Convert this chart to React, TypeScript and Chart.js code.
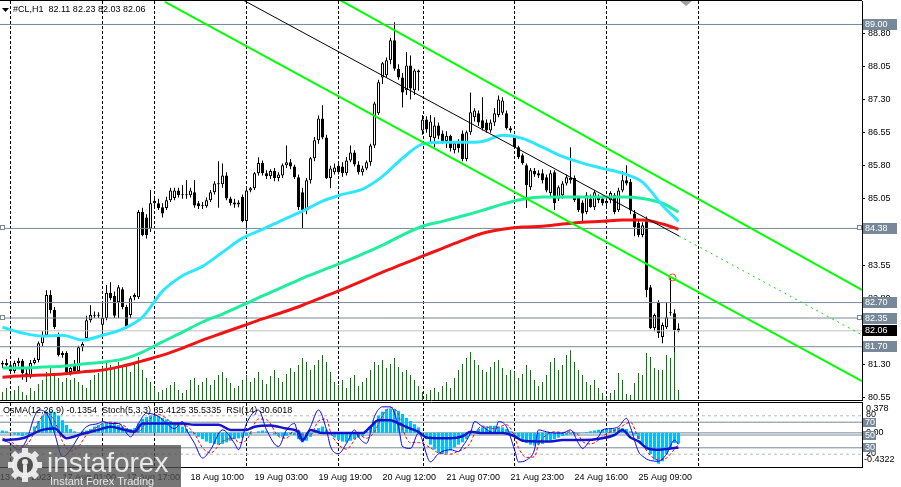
import { useEffect, useRef } from "react"
import { Chart, registerables } from "chart.js"

Chart.register(...registerables)

const FONT = "'Liberation Sans', Arial, sans-serif"
// visible bar range (4 px per H1 bar, last bar followed by the chart shift)
const X_MIN = -0.625
const X_MAX = 214.875

// #CL H1 candles, oldest first
const opens = [
  81.30, 81.33, 81.28, 81.15, 81.33, 81.38, 81.10, 81.01, 81.33, 81.40,
  81.78, 81.96, 82.87, 82.53, 81.95, 81.51, 81.56, 81.13, 81.30, 81.15,
  81.69, 81.90, 82.30, 82.42, 82.40, 82.20, 82.35, 82.92, 82.85, 82.71,
  83.00, 82.60, 82.42, 82.82, 82.82, 84.75, 84.63, 84.38, 84.95, 84.95,
  84.86, 84.84, 85.02, 85.07, 85.24, 85.13, 85.13, 85.13, 85.20, 84.95,
  84.90, 84.88, 85.02, 85.20, 85.40, 85.38, 85.58, 85.06, 84.97, 84.92,
  85.10, 84.55, 85.24, 85.29, 85.63, 85.86, 85.63, 85.56, 85.68, 85.52,
  85.58, 85.81, 85.88, 85.78, 85.54, 85.20, 84.79, 85.47, 85.97, 86.38,
  86.87, 86.44, 85.52, 85.65, 85.80, 85.78, 85.63, 85.92, 86.10, 85.83,
  85.65, 85.74, 85.88, 86.26, 86.99, 87.80, 87.85, 88.19, 88.64, 88.00,
  87.80, 87.51, 88.07, 87.51, 87.96, 86.60, 86.85, 86.45, 86.42, 86.71,
  86.53, 86.36, 86.48, 86.15, 86.31, 86.53, 85.95, 86.56, 86.90, 86.99,
  86.83, 86.78, 86.60, 86.78, 86.95, 87.00, 86.99, 86.65, 86.44, 86.22,
  86.04, 85.81, 85.31, 85.68, 85.63, 85.63, 85.54, 85.18, 85.65, 85.06,
  85.13, 85.40, 85.47, 85.52, 85.09, 84.97, 84.75, 85.06, 84.86, 85.09,
  85.06, 84.95, 85.02, 85.13, 84.79, 85.24, 85.47, 85.43, 84.72, 84.50,
  84.23, 84.60, 83.05, 82.12, 82.69, 81.92, 82.14, 82.46, 82.46, 82.11,
]
const highs = [
  81.38, 81.42, 81.35, 81.38, 81.45, 81.42, 81.20, 81.40, 81.45, 81.82,
  82.05, 82.98, 82.98, 82.60, 82.02, 81.60, 81.60, 81.30, 81.40, 81.72,
  81.80, 82.40, 82.64, 82.50, 82.48, 82.69, 83.10, 83.16, 82.95, 83.10,
  83.05, 82.65, 82.85, 82.91, 84.80, 84.85, 84.70, 85.25, 85.10, 85.05,
  84.95, 85.10, 85.30, 85.30, 85.30, 85.36, 85.47, 85.30, 85.47, 85.00,
  84.98, 85.08, 85.25, 85.45, 85.90, 85.85, 85.65, 85.10, 85.05, 85.02,
  85.15, 85.30, 85.32, 85.66, 85.99, 85.92, 85.70, 85.72, 85.75, 85.65,
  85.85, 86.26, 85.95, 85.82, 85.60, 85.30, 85.52, 86.00, 86.45, 86.94,
  87.17, 86.50, 85.80, 85.85, 85.85, 85.88, 86.00, 86.26, 86.15, 85.90,
  85.80, 85.92, 86.30, 87.25, 87.75, 88.15, 88.25, 88.70, 89.05, 88.10,
  87.90, 88.37, 88.30, 88.00, 87.98, 86.95, 86.92, 86.95, 86.90, 86.78,
  86.60, 86.58, 86.50, 86.35, 86.40, 86.60, 86.60, 87.46, 87.10, 87.05,
  87.35, 86.85, 86.85, 87.10, 87.39, 87.35, 87.05, 86.70, 86.50, 86.25,
  86.08, 85.85, 85.75, 85.75, 85.70, 85.72, 85.60, 85.70, 85.70, 85.35,
  85.45, 85.60, 86.22, 85.58, 85.12, 85.02, 85.20, 85.15, 85.25, 85.15,
  85.12, 85.10, 85.22, 85.18, 85.30, 85.68, 85.81, 85.50, 84.80, 84.55,
  84.52, 84.65, 83.10, 82.45, 82.75, 82.25, 82.69, 83.25, 82.55, 82.23,
]
const lows = [
  81.22, 81.25, 81.12, 81.10, 81.25, 80.95, 80.90, 80.98, 81.30, 81.35,
  81.70, 81.92, 82.45, 82.10, 81.48, 81.45, 81.10, 81.05, 81.10, 81.10,
  81.60, 81.85, 82.25, 82.35, 82.35, 81.96, 82.30, 82.75, 82.35, 82.35,
  82.55, 82.10, 82.35, 82.75, 82.78, 84.20, 84.15, 84.30, 84.85, 84.80,
  84.63, 84.80, 84.98, 85.02, 85.08, 85.05, 85.05, 85.08, 84.85, 84.82,
  84.82, 84.85, 84.98, 85.15, 84.85, 85.30, 85.02, 84.90, 84.85, 84.86,
  84.52, 84.35, 85.20, 85.25, 85.58, 85.58, 85.50, 85.50, 85.45, 85.45,
  85.52, 85.75, 85.72, 85.50, 84.80, 84.38, 84.70, 85.40, 85.90, 86.30,
  86.40, 85.50, 85.29, 85.60, 85.60, 85.55, 85.58, 85.88, 85.78, 85.60,
  85.58, 85.70, 85.80, 86.20, 86.95, 87.65, 87.80, 88.10, 87.95, 87.75,
  87.12, 87.40, 87.30, 87.40, 87.50, 86.50, 86.55, 86.30, 86.22, 86.40,
  86.30, 86.20, 86.12, 86.08, 86.10, 85.90, 85.90, 86.50, 86.80, 86.70,
  86.60, 86.55, 86.55, 86.70, 86.90, 86.95, 86.62, 86.55, 86.20, 85.95,
  85.82, 84.84, 85.25, 85.55, 85.52, 85.40, 85.20, 85.10, 84.80, 85.00,
  85.05, 85.35, 85.40, 84.98, 84.75, 84.50, 84.70, 84.85, 84.80, 84.95,
  84.90, 84.88, 84.95, 84.70, 84.75, 85.20, 85.35, 84.70, 84.20, 84.18,
  84.18, 82.82, 82.10, 82.05, 81.90, 81.78, 82.10, 82.40, 81.58, 82.03,
]
const closes = [
  81.33, 81.28, 81.15, 81.33, 81.38, 81.10, 81.01, 81.33, 81.40, 81.78,
  81.96, 82.87, 82.53, 82.14, 81.51, 81.56, 81.13, 81.22, 81.15, 81.69,
  81.76, 82.30, 82.42, 82.40, 82.42, 82.35, 82.92, 82.80, 82.40, 83.05,
  82.60, 82.14, 82.80, 82.87, 84.75, 84.23, 84.23, 84.95, 85.00, 84.84,
  84.72, 85.02, 85.24, 85.24, 85.13, 85.13, 85.15, 85.24, 84.90, 84.88,
  84.88, 85.02, 85.20, 85.40, 85.38, 85.58, 85.06, 84.95, 84.92, 84.97,
  84.55, 85.24, 85.29, 85.63, 85.86, 85.63, 85.56, 85.68, 85.52, 85.60,
  85.81, 85.88, 85.78, 85.54, 84.86, 84.79, 85.47, 85.97, 86.38, 86.87,
  86.44, 85.52, 85.74, 85.76, 85.65, 85.63, 85.92, 86.10, 85.83, 85.65,
  85.74, 85.88, 86.26, 87.21, 87.69, 88.12, 88.19, 88.64, 88.00, 87.80,
  87.46, 88.07, 87.55, 87.96, 87.92, 86.85, 86.62, 86.80, 86.71, 86.48,
  86.36, 86.48, 86.20, 86.31, 86.20, 85.95, 86.56, 87.01, 87.05, 86.78,
  86.65, 86.60, 86.78, 86.99, 87.30, 87.28, 86.65, 86.60, 86.22, 85.99,
  85.86, 85.36, 85.70, 85.60, 85.58, 85.47, 85.24, 85.63, 84.95, 85.31,
  85.40, 85.54, 85.52, 85.02, 84.79, 84.72, 85.13, 84.86, 85.20, 85.02,
  84.95, 85.00, 85.18, 84.75, 85.24, 85.47, 85.40, 84.79, 84.41, 84.23,
  84.45, 82.98, 82.12, 82.42, 82.01, 82.19, 82.37, 82.48, 82.08, 82.06,
]
const volumes = [
  8, 12, 6, 10, 14, 8, 5, 12, 9, 16,
  20, 28, 32, 26, 22, 18, 22, 20, 22, 18,
  15, 12, 20, 25, 27, 33, 38, 35, 33, 38,
  35, 33, 28, 38, 43, 30, 22, 18, 12, 8,
  10, 12, 15, 18, 10, 7, 10, 20, 22, 15,
  18, 22, 15, 20, 25, 28, 22, 17, 12, 14,
  20, 25, 18, 22, 28, 20, 16, 24, 30, 22,
  18, 26, 32, 28, 35, 42, 38, 30, 35, 40,
  45, 38, 28, 18, 15, 20, 12, 22, 25, 14,
  18, 22, 30, 38, 35, 40, 32, 36, 42, 33,
  28, 30, 25, 20, 14, 8, 6, 10, 12, 8,
  14, 18, 12, 22, 30, 36, 42, 48, 40, 35,
  30, 28, 33, 38, 40, 32, 25, 30, 28, 22,
  26, 35, 30, 20, 14, 18, 25, 38, 42, 30,
  35, 45, 50, 38, 30, 25, 18, 15, 20, 12,
  7, 2, 7, 10, 27, 20, 6, 5, 17, 27,
  25, 47, 43, 32, 30, 30, 45, 42, 48, 10,
]

// moving averages, sampled along the bars
const maIdx = [0, 5, 10, 15, 20, 25, 30, 35, 40, 45, 50, 55, 60, 65, 70, 75, 80, 85, 90, 95, 100, 105, 110, 115, 120, 125, 130, 135, 140, 145, 150, 155, 160, 165, 169]
const maFast = [82.14, 82.01, 81.94, 81.96, 81.85, 81.96, 82.10, 82.37, 82.96, 83.31, 83.52, 83.84, 84.16, 84.36, 84.57, 84.77, 85.00, 85.15, 85.27, 85.56, 85.97, 86.29, 86.33, 86.33, 86.35, 86.49, 86.42, 86.22, 86.01, 85.86, 85.74, 85.63, 85.43, 84.90, 84.54]
const maMid = [81.22, 81.22, 81.24, 81.26, 81.31, 81.35, 81.42, 81.58, 81.81, 82.03, 82.26, 82.44, 82.64, 82.85, 83.05, 83.25, 83.43, 83.61, 83.80, 84.00, 84.23, 84.43, 84.54, 84.66, 84.79, 84.93, 85.04, 85.09, 85.09, 85.09, 85.09, 85.09, 85.06, 84.95, 84.75]
const maSlow = [81.01, 81.04, 81.06, 81.08, 81.13, 81.17, 81.26, 81.38, 81.51, 81.67, 81.85, 82.01, 82.17, 82.33, 82.48, 82.64, 82.82, 83.00, 83.19, 83.39, 83.57, 83.75, 83.93, 84.11, 84.27, 84.36, 84.41, 84.43, 84.48, 84.52, 84.54, 84.57, 84.57, 84.48, 84.36]

// drawn channel (bar index, price)
const chanUpperX = [84.375, 214.875]
const chanUpperY = [89.555, 82.985]
const chanLowerX = [40.625, 214.875]
const chanLowerY = [89.51, 80.923]
const chanMidX = [60.125, 169.125]
const chanMidY = [89.555, 84.208]
const chanRayX = [169.125, 214.875]
const chanRayY = [84.208, 81.966]
const alertX = [167.5]
const alertY = [83.27]

const levels = [89.0, 84.38, 82.7, 82.35, 81.7]
const anchoredLevels = [84.38, 82.35]
const bidPrice = 82.06
const priceTicks = [80.55, 81.3, 82.05, 82.8, 83.55, 84.3, 85.05, 85.8, 86.55, 87.3, 88.05, 88.8]

const timeIdx = [-0.6, 15, 31, 47, 63, 79, 95, 111, 127, 143, 159]
const timeLabels = ["13 Aug 2023", "17 Aug 01:00", "17 Aug 17:00", "18 Aug 10:00", "19 Aug 03:00", "19 Aug 19:00", "20 Aug 12:00", "21 Aug 07:00", "21 Aug 23:00", "24 Aug 16:00", "25 Aug 09:00"]
const daySeparators = [2, 25, 38, 61, 84, 105.25, 128, 151, 174]

// OsMA(12,26,9) histogram, one value per bar
const osma = [
  0.03, 0.02, 0.0, -0.02, -0.03, -0.04, -0.02, 0.01, 0.08, 0.15,
  0.22, 0.27, 0.28, 0.26, 0.22, 0.16, 0.10, 0.05, 0.02, 0.0,
  0.02, 0.03, 0.05, 0.08, 0.10, 0.12, 0.13, 0.13, 0.12, 0.10,
  0.08, 0.06, 0.05, 0.06, 0.12, 0.18, 0.20, 0.22, 0.22, 0.21,
  0.19, 0.17, 0.15, 0.13, 0.10, 0.08, 0.05, 0.02, -0.02, -0.05,
  -0.08, -0.11, -0.13, -0.14, -0.15, -0.14, -0.12, -0.10, -0.08, -0.07,
  -0.06, -0.04, -0.02, 0.0, 0.02, 0.03, 0.02, 0.0, -0.02, -0.04,
  -0.05, -0.04, -0.02, -0.03, -0.08, -0.12, -0.10, -0.05, 0.02, 0.06,
  0.08, 0.04, -0.02, -0.06, -0.09, -0.11, -0.12, -0.10, -0.08, -0.06,
  -0.04, 0.02, 0.08, 0.15, 0.22, 0.27, 0.30, 0.31, 0.30, 0.28,
  0.24, 0.19, 0.15, 0.11, 0.07, 0.0, -0.08, -0.15, -0.21, -0.25,
  -0.27, -0.26, -0.22, -0.18, -0.15, -0.12, -0.08, -0.02, 0.02, 0.05,
  0.07, 0.08, 0.09, 0.09, 0.08, 0.07, 0.05, 0.02, -0.02, -0.06,
  -0.10, -0.13, -0.15, -0.16, -0.15, -0.14, -0.12, -0.10, -0.08, -0.06,
  -0.04, -0.03, -0.02, -0.02, -0.01, 0.0, 0.01, 0.02, 0.03, 0.04,
  0.04, 0.05, 0.05, 0.05, 0.06, 0.06, 0.05, 0.02, -0.02, -0.08,
  -0.15, -0.21, -0.27, -0.34, -0.39, -0.36, -0.27, -0.19, -0.13, -0.1354,
]

// Stochastic(5,3,3) and RSI(14), sampled at turning points
const stochIdx = [0, 2, 4, 6, 8, 9, 11, 13, 15, 17, 19, 21, 24, 25, 27, 29, 31, 32, 34, 36, 39, 41, 43, 45, 46, 48, 50, 52, 55, 58, 59, 61, 64, 66, 69, 71, 73, 74, 75, 77, 79, 81, 82, 84, 86, 88, 89, 91, 93, 95, 97, 99, 100, 102, 104, 107, 109, 112, 114, 115, 117, 118, 120, 123, 124, 126, 128, 129, 131, 133, 134, 136, 138, 140, 142, 144, 145, 147, 149, 150, 152, 154, 156, 157, 159, 160, 162, 164, 166, 168, 169]
const stochMain = [42, 37, 27, 42, 79, 89, 84, 53, 16, 27, 47, 63, 68, 71, 68, 68, 53, 47, 68, 84, 79, 68, 60, 71, 58, 37, 14, 27, 58, 37, 27, 68, 89, 58, 32, 58, 68, 47, 40, 63, 89, 58, 32, 21, 37, 58, 47, 37, 79, 94, 94, 63, 32, 29, 53, 8, 21, 27, 24, 32, 53, 71, 63, 53, 71, 63, 27, 8, 11, 27, 58, 55, 53, 53, 58, 37, 29, 42, 47, 58, 60, 63, 76, 62, 24, 17, 10, 9, 20, 42, 35.41]
const stochSignal = [45, 40, 33, 35, 55, 70, 84, 72, 40, 25, 32, 50, 64, 68, 70, 68, 62, 55, 55, 70, 82, 76, 66, 66, 64, 52, 30, 22, 40, 45, 38, 42, 75, 74, 48, 45, 58, 58, 50, 50, 72, 75, 55, 35, 28, 42, 50, 45, 55, 80, 93, 82, 60, 38, 38, 30, 22, 20, 25, 27, 38, 52, 64, 60, 62, 66, 48, 30, 15, 16, 35, 50, 55, 54, 55, 50, 40, 36, 42, 48, 55, 60, 68, 70, 45, 35, 18, 11, 14, 28, 35.53]
const rsiIdx = [0, 5, 10, 13, 16, 20, 24, 27, 30, 33, 35, 40, 45, 48, 54, 57, 61, 63, 67, 71, 74, 75, 77, 80, 85, 90, 92, 94, 97, 99, 102, 104, 106, 109, 112, 115, 117, 120, 125, 128, 130, 134, 137, 140, 145, 150, 153, 155, 157, 159, 161, 164, 167, 169]
const rsiVals = [42, 45, 58, 60, 45, 52, 58, 63, 59, 55, 68, 68, 68, 66, 66, 58, 58, 63, 65, 60, 55, 42, 58, 53, 53, 53, 63, 73, 73, 68, 60, 55, 46, 45, 45, 48, 55, 53, 53, 48, 41, 40, 40, 42, 42, 45, 50, 58, 46, 40, 30, 27, 29, 30.6]
const oscLevels = [70, 50, 30]
const stochLevels = [80, 20]
const osmaZero = 0

const SLATE = "#778899"

const pts = (xs: number[], ys: number[]) => xs.map((x, k) => ({ x, y: ys[k] }))
const flat = (v: number) => [{ x: X_MIN, y: v }, { x: X_MAX, y: v }]
const lineSet = (label: string, data: any[], color: string, width: number, order: number, extra: any = {}) => ({
  type: "line", label, data, borderColor: color, borderWidth: width, pointRadius: 0, fill: false, order, ...extra,
})
// hidden scales must not reserve label padding
const hidden = { display: false, ticks: { display: false }, grid: { display: false } }

function drawSeparators(ctx: any, xScale: any, top: number, bottom: number) {
  ctx.save()
  ctx.strokeStyle = "#000"
  ctx.lineWidth = 1
  ctx.setLineDash([3, 2])
  for (const v of daySeparators) {
    const x = Math.floor(xScale.getPixelForValue(v)) + 0.5
    ctx.beginPath()
    ctx.moveTo(x, top)
    ctx.lineTo(x, bottom)
    ctx.stroke()
  }
  ctx.restore()
}

function tagBox(ctx: any, text: string, y: number, w: number, h: number, bg: string) {
  const top = Math.round(y - h / 2)
  ctx.fillStyle = bg
  ctx.fillRect(863, top, w, h)
  ctx.fillStyle = "#fff"
  ctx.fillText(text, 865, top + h / 2 + 0.5)
}

const mainDecor = {
  id: "mainDecor",
  beforeDatasetsDraw(chart: any) {
    const { ctx, chartArea: a, scales } = chart
    drawSeparators(ctx, scales.x, a.top, a.bottom)
  },
  afterDraw(chart: any) {
    const { ctx, chartArea: a, scales } = chart
    const y = scales.y
    ctx.save()
    ctx.strokeStyle = "#000"
    ctx.lineWidth = 1
    ctx.beginPath()
    ctx.moveTo(0, a.top - 0.5)
    ctx.lineTo(a.right, a.top - 0.5)
    ctx.moveTo(0, a.bottom + 0.5)
    ctx.lineTo(a.right + 1, a.bottom + 0.5)
    ctx.stroke()

    // anchors of the horizontal lines
    ctx.strokeStyle = SLATE
    ctx.fillStyle = "#fff"
    for (const v of anchoredLevels) {
      const py = Math.round(y.getPixelForValue(v))
      for (const px of [0.5, 857.5]) {
        ctx.fillRect(px, py - 2.5, 4, 4)
        ctx.strokeRect(px, py - 2.5, 4, 4)
      }
    }

    ctx.font = `9px ${FONT}`
    ctx.textBaseline = "middle"
    for (const v of levels) tagBox(ctx, v.toFixed(2), y.getPixelForValue(v), 34, 11, SLATE)
    tagBox(ctx, bidPrice.toFixed(2), y.getPixelForValue(bidPrice), 34, 11, "#000")

    ctx.fillStyle = "#000"
    ctx.fillText("#CL,H1  82.11 82.23 82.03 82.06", 13, 10)
    ctx.beginPath()
    ctx.moveTo(2, 8)
    ctx.lineTo(9, 8)
    ctx.lineTo(5.5, 12)
    ctx.closePath()
    ctx.fill()
    ctx.fillStyle = "#a0a0a0"
    ctx.beginPath()
    ctx.moveTo(680, 1)
    ctx.lineTo(692, 1)
    ctx.lineTo(686, 6)
    ctx.closePath()
    ctx.fill()
    ctx.restore()
  },
}

function drawLogo(ctx: any, top: number, bottom: number) {
  ctx.save()
  ctx.fillStyle = "rgba(80,80,80,0.78)"
  ctx.fillRect(0, top, 181, bottom - top)
  ctx.fillStyle = "rgba(238,238,238,0.95)"
  ctx.save()
  ctx.translate(25, top + 20)
  for (let k = 0; k < 8; k++) {
    ctx.save()
    ctx.rotate((k * Math.PI) / 4)
    ctx.fillRect(-3, -17, 6, 6)
    ctx.restore()
  }
  ctx.beginPath()
  ctx.arc(0, 0, 13, 0, Math.PI * 2)
  ctx.fill()
  ctx.fillStyle = "rgba(80,80,80,1)"
  ctx.beginPath()
  ctx.arc(0, 0, 8, 0, Math.PI * 2)
  ctx.fill()
  ctx.fillStyle = "rgba(238,238,238,0.95)"
  ctx.beginPath()
  ctx.arc(0, -3, 3, 0, Math.PI * 2)
  ctx.fill()
  ctx.fillRect(-2, 0, 4, 10)
  ctx.restore()
  ctx.textBaseline = "alphabetic"
  ctx.font = `28px ${FONT}`
  ctx.fillText("instaforex", 47, top + 27)
  ctx.font = `11px ${FONT}`
  ctx.fillText("Instant Forex Trading", 50, top + 40)
  ctx.restore()
}

const oscDecor = {
  id: "oscDecor",
  beforeDatasetsDraw(chart: any) {
    const { ctx, chartArea: a, scales } = chart
    drawSeparators(ctx, scales.x, a.top, a.bottom)
  },
  afterDraw(chart: any) {
    const { ctx, chartArea: a, scales } = chart
    const pct = scales.yPct
    const os = scales.yOs
    ctx.save()
    ctx.strokeStyle = "#000"
    ctx.lineWidth = 1
    ctx.beginPath()
    ctx.moveTo(0, a.top - 0.5)
    ctx.lineTo(a.right + 1, a.top - 0.5)
    ctx.moveTo(0, a.bottom + 0.5)
    ctx.lineTo(a.right + 1, a.bottom + 0.5)
    ctx.moveTo(a.right + 0.5, a.top - 1)
    ctx.lineTo(a.right + 0.5, a.bottom + 1)
    ctx.stroke()

    ctx.font = `9px ${FONT}`
    ctx.textBaseline = "middle"
    ctx.fillStyle = "#000"
    for (const v of stochLevels) ctx.fillText(String(v), 866, pct.getPixelForValue(v) - 1)
    ctx.fillText("0.378", 866, os.getPixelForValue(0.378) + 6)
    ctx.fillText("0.00", 866, os.getPixelForValue(0))
    ctx.fillText("-0.4322", 864, os.getPixelForValue(-0.4322) - 7)
    for (const v of oscLevels) tagBox(ctx, String(v), pct.getPixelForValue(v), 13, 9, SLATE)

    ctx.fillStyle = "#000"
    ctx.fillText("OsMA(12,26,9) -0.1354  Stoch(5,3,3) 35.4125 35.5335  RSI(14) 30.6018", 3, a.top + 8)
    ctx.restore()
    drawLogo(ctx, 43, chart.height)
  },
}

export default function App() {
  const mainRef = useRef<HTMLCanvasElement>(null)
  const oscRef = useRef<HTMLCanvasElement>(null)

  useEffect(() => {
    document.body.style.margin = "0"
    if (!mainRef.current || !oscRef.current) return

    const bars = closes.map((_, i) => i)
    const smooth = { cubicInterpolationMode: "monotone" }

    const main = new Chart(mainRef.current, {
      type: "line",
      data: {
        datasets: [
          lineSet("channel upper", pts(chanUpperX, chanUpperY), "#00ff00", 2, 0),
          lineSet("channel lower", pts(chanLowerX, chanLowerY), "#00ff00", 2, 0),
          lineSet("channel middle", pts(chanMidX, chanMidY), "#000000", 1, 0),
          lineSet("channel ray", pts(chanRayX, chanRayY), "#00e000", 1, 0, { borderDash: [2, 4] }),
          {
            type: "line", label: "alert", data: pts(alertX, alertY), showLine: false, order: 0,
            pointRadius: 3.5, pointBorderWidth: 1, pointBorderColor: "#ff4020", pointBackgroundColor: "rgba(0,0,0,0)",
          },
          lineSet("MA fast", pts(maIdx, maFast), "#2ee6ff", 3, 1, smooth),
          lineSet("MA mid", pts(maIdx, maMid), "#20ee9e", 3, 2, smooth),
          lineSet("MA slow", pts(maIdx, maSlow), "#f01414", 3, 3, smooth),
          ...levels.map((v) => lineSet(`level ${v}`, flat(v), SLATE, 1, 4)),
          lineSet("bid", flat(bidPrice), "#c0c0c0", 1, 4),
          {
            type: "bar", label: "body", order: 5,
            data: bars.map((i) => ({ x: i, y: [Math.min(opens[i], closes[i]), Math.max(opens[i], closes[i])] })),
            backgroundColor: bars.map((i) => (closes[i] >= opens[i] ? "#ffffff" : "#000000")),
            borderColor: "#000000", borderWidth: 1, borderSkipped: false,
            barThickness: 3, minBarLength: 1, grouped: false, inflateAmount: 0,
          },
          {
            type: "bar", label: "wick", order: 6,
            data: bars.map((i) => ({ x: i, y: [lows[i], highs[i]] })),
            backgroundColor: "#000000", borderWidth: 0, barThickness: 1, grouped: false, inflateAmount: 0,
          },
          {
            type: "bar", label: "volume", order: 7, yAxisID: "yVol",
            data: bars.map((i) => ({ x: i, y: volumes[i] })),
            backgroundColor: "#008000", borderWidth: 0, barThickness: 1, grouped: false, inflateAmount: 0,
          },
        ],
      },
      options: {
        animation: false,
        responsive: false,
        devicePixelRatio: 1,
        events: [],
        layout: { autoPadding: false, padding: { top: 1, bottom: 2, left: 0, right: 0 } },
        plugins: { legend: { display: false }, tooltip: { enabled: false } },
        scales: {
          x: { type: "linear", min: X_MIN, max: X_MAX, offset: false, ...hidden },
          y: {
            type: "linear", position: "right", min: 80.493, max: 89.532, bounds: "data",
            afterBuildTicks: (s: any) => { s.ticks = priceTicks.map((value) => ({ value })) },
            afterFit: (s: any) => { s.width = 39; s.paddingTop = 0; s.paddingBottom = 0 },
            ticks: { color: "#000", padding: 3, font: { family: FONT, size: 9 }, callback: (v: any) => Number(v).toFixed(2) },
            grid: { drawOnChartArea: false, drawTicks: true, tickLength: 3, color: "#000" },
            border: { display: true, color: "#000" },
          },
          yVol: { axis: "y", type: "linear", min: 0, max: 400, ...hidden },
        },
      },
      plugins: [mainDecor],
    } as any)

    const osc = new Chart(oscRef.current, {
      type: "line",
      data: {
        datasets: [
          lineSet("RSI(14)", pts(rsiIdx, rsiVals), "#1414cc", 2.5, 0, { ...smooth, yAxisID: "yPct" }),
          lineSet("Stoch main", pts(stochIdx, stochMain), "#0000ff", 1, 1, { ...smooth, yAxisID: "yPct" }),
          lineSet("Stoch signal", pts(stochIdx, stochSignal), "#ff0000", 1, 2, { ...smooth, yAxisID: "yPct", borderDash: [3, 2] }),
          {
            type: "bar", label: "OsMA", order: 3, yAxisID: "yOs",
            data: bars.map((i) => ({ x: i, y: osma[i] })),
            backgroundColor: "#00bfff", borderWidth: 0, barThickness: 3, grouped: false, inflateAmount: 0,
          },
          lineSet("OsMA zero", flat(osmaZero), SLATE, 1, 4, { yAxisID: "yOs" }),
          ...oscLevels.map((v) => lineSet(`level ${v}`, flat(v), SLATE, 1, 4, { yAxisID: "yPct" })),
          ...stochLevels.map((v) => lineSet(`level ${v}`, flat(v), "#b8b8b8", 1, 4, { yAxisID: "yPct", borderDash: [3, 3] })),
        ],
      },
      options: {
        animation: false,
        responsive: false,
        devicePixelRatio: 1,
        events: [],
        layout: { autoPadding: false, padding: { top: 1, bottom: 0, left: 0, right: 39 } },
        plugins: { legend: { display: false }, tooltip: { enabled: false } },
        scales: {
          x: {
            type: "linear", min: X_MIN, max: X_MAX, position: "bottom", offset: false, bounds: "data",
            afterBuildTicks: (s: any) => { s.ticks = timeIdx.map((value) => ({ value })) },
            afterFit: (s: any) => { s.height = 20; s.paddingLeft = 0; s.paddingRight = 0 },
            ticks: {
              autoSkip: false, maxRotation: 0, minRotation: 0, align: "start", padding: 5,
              color: "#000", font: { family: FONT, size: 9 },
              callback: (_v: any, i: number) => timeLabels[i],
            },
            grid: { display: false, drawTicks: false },
            border: { display: false },
          },
          yOs: { axis: "y", type: "linear", min: -0.4322, max: 0.378, ...hidden },
          yPct: { axis: "y", type: "linear", min: 0, max: 100, ...hidden },
        },
      },
      plugins: [oscDecor],
    } as any)

    return () => {
      main.destroy()
      osc.destroy()
    }
  }, [])

  return (
    <div style={{ width: 901, height: 487, background: "#fff", position: "relative" }}>
      <canvas ref={mainRef} width={901} height={402} style={{ display: "block" }} />
      <canvas ref={oscRef} width={901} height={85} style={{ display: "block" }} />
    </div>
  )
}
